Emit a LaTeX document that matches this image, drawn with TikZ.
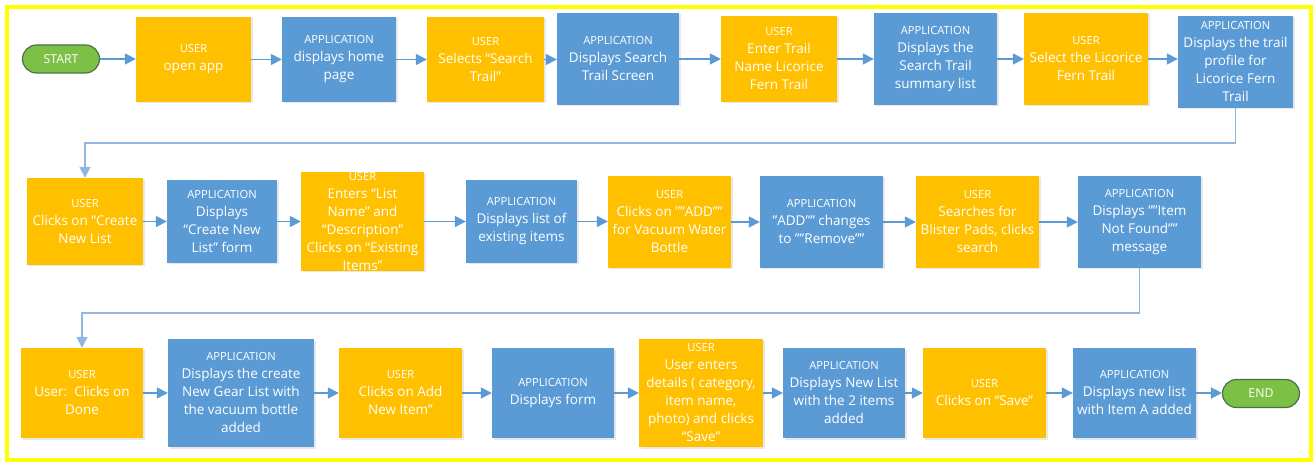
\documentclass[tikz,border=0pt]{standalone}
\usepackage{fontspec}
\setmainfont{Open Sans}
\usetikzlibrary{arrows.meta,shapes.misc,shadows}
\definecolor{uorange}{HTML}{FFC000}
\definecolor{ablue}{HTML}{5B9BD5}
\definecolor{tgreen}{HTML}{7CC145}
\definecolor{tborder}{HTML}{4F6F4A}
\definecolor{connc}{HTML}{5B9BD5}
\definecolor{linkc}{HTML}{8FB7DF}
\definecolor{framec}{HTML}{FFFF00}
\newcommand\hdr[1]{{\fontsize{11.2}{18}\selectfont #1}}
\begin{document}
\begin{tikzpicture}[x=1pt,y=-1pt,
  box/.style={draw=none, inner sep=0pt, align=center, text=white,
    font=\fontsize{13.5}{18}\selectfont,
    drop shadow={shadow xshift=1.5pt,shadow yshift=-1.5pt,opacity=0.18}},
  sz/.style 2 args={minimum width=#1pt, minimum height=#2pt},
  ubox/.style={box, fill=uorange},
  abox/.style={box, fill=ablue},
  term/.style={rounded rectangle, draw=tborder, line width=1.2pt, fill=tgreen,
    text=white, font=\fontsize{12.3}{14}\selectfont,
    minimum width=77pt, minimum height=28pt, inner sep=0pt},
  conn/.style={draw=connc, line width=1.5pt, -{Triangle[length=11pt,width=11pt]}},
  link/.style={draw=linkc, line width=1.5pt, -{Triangle[length=11pt,width=11pt]}}]
\useasboundingbox (0,0) rectangle (1314,462);
\fill[white] (0,0) rectangle (1314,462);
\draw[framec, line width=4pt] (7,7) rectangle (1311,460);

% Row 1
\node[term] (start) at (61,59) {START};
\node[ubox, sz={115}{85}] (u1) at (193.5,59.5) {\hdr{USER}\\open app};
\node[abox, sz={114}{85}] (a1) at (339,59.5) {\hdr{APPLICATION}\\displays home\\page};
\node[ubox, sz={117}{85}] (u2) at (485.5,59.5) {\hdr{USER}\\Selects “Search\\Trail”};
\node[abox, sz={122}{92}] (a2) at (618,59) {\hdr{APPLICATION}\\Displays Search\\Trail Screen};
\node[ubox, sz={116}{86}] (u3) at (779,59) {\hdr{USER}\\Enter Trail\\Name Licorice\\Fern Trail};
\node[abox, sz={123}{92}] (a3) at (935.5,59) {\hdr{APPLICATION}\\Displays the\\Search Trail\\summary list};
\node[ubox, sz={124}{92}] (u4) at (1086,59) {\hdr{USER}\\Select the Licorice\\Fern Trail};
\node[abox, sz={115}{92}] (a4) at (1235.5,62) {\hdr{APPLICATION}\\Displays the trail\\profile for\\Licorice Fern\\Trail};

% Row 2
\node[ubox, sz={116}{87}] (u5) at (85,221.5) {\hdr{USER}\\Clicks on “Create\\New List};
\node[abox, sz={110}{83}] (a5) at (222,221.5) {\hdr{APPLICATION}\\Displays\\“Create New\\List” form};
\node[ubox, sz={123}{93}] (u6) at (362.5,221.5) {\hdr{USER}\\Enters “List\\Name” and\\“Description”\\Clicks on “Existing\\Items”};
\node[abox, sz={111}{83}] (a6) at (521.5,221.5) {\hdr{APPLICATION}\\Displays list of\\existing items};
\node[ubox, sz={123}{92}] (u7) at (669.5,222) {\hdr{USER}\\Clicks on ""ADD""\\for Vacuum Water\\Bottle};
\node[abox, sz={123}{92}] (a7) at (821.5,222) {\hdr{APPLICATION}\\"ADD"" changes\\to ""Remove""};
\node[ubox, sz={123}{92}] (u8) at (977.5,222) {\hdr{USER}\\Searches for\\Blister Pads, clicks\\search};
\node[abox, sz={123}{92}] (a8) at (1139.5,222) {\hdr{APPLICATION}\\Displays ""Item\\Not Found""\\message};

% Row 3
\node[ubox, sz={122}{90}] (u9) at (82,393) {\hdr{USER}\\User:\ \ Clicks on\\Done};
\node[abox, sz={146}{108}] (a9) at (241,393) {\hdr{APPLICATION}\\Displays the create\\New Gear List with\\the vacuum bottle\\added};
\node[ubox, sz={123}{90}] (u10) at (400.5,393) {\hdr{USER}\\Clicks on Add\\New Item”};
\node[abox, sz={122}{90}] (a10) at (553,393) {\hdr{APPLICATION}\\Displays form};
\node[ubox, sz={124}{108}] (u11) at (701,393) {\hdr{USER}\\User enters\\details ( category,\\item name,\\photo) and clicks\\“Save”};
\node[abox, sz={122}{90}] (a11) at (844,393) {\hdr{APPLICATION}\\Displays New List\\with the 2 items\\added};
\node[ubox, sz={123}{90}] (u12) at (984.5,393) {\hdr{USER}\\Clicks on “Save”};
\node[abox, sz={123}{90}] (a12) at (1134.5,393) {\hdr{APPLICATION}\\Displays new list\\with Item A added};
\node[term] (end) at (1261,393.5) {END};

% helper rows for the return links
\coordinate (r1) at (0,143);
\coordinate (r2) at (0,313);

% Row 1 arrows
\foreach \p/\q in {start/u1,u1/a1,a1/u2,u2/a2,a2/u3,u3/a3,a3/u4,u4/a4}
  \draw[conn] (\p.east) -- (\p.east -| \q.west);
% Row 2 arrows
\foreach \p/\q in {u5/a5,a5/u6,u6/a6,a6/u7,u7/a7,a7/u8,u8/a8}
  \draw[conn] (\p.east) -- (\p.east -| \q.west);
% Row 3 arrows
\foreach \p/\q in {u9/a9,a9/u10,u10/a10,a10/u11,u11/a11,a11/u12,u12/a12,a12/end}
  \draw[conn] (\p.east) -- (\p.east -| \q.west);

% Return links
\draw[link] (a4.south) -- (a4.south |- r1) -| (u5.north);
\draw[link] (a8.south) -- (a8.south |- r2) -| (u9.north);
\end{tikzpicture}
\end{document}
